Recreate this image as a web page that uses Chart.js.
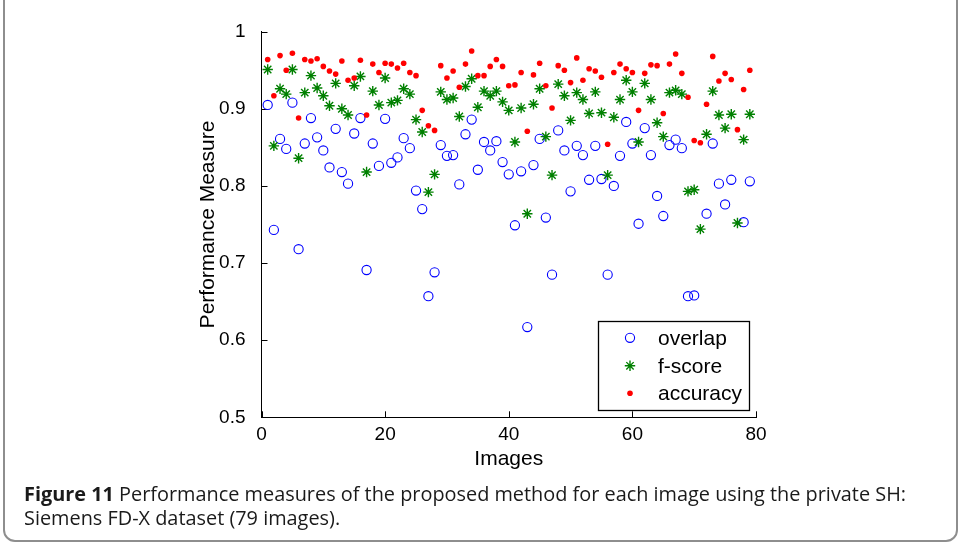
<!DOCTYPE html>
<html>
<head>
<meta charset="utf-8">
<script src="https://cdn.jsdelivr.net/npm/chart.js@4.4.0/dist/chart.umd.min.js"></script>
<style>
	body { margin: 0; background: #fff; }
	#wrap { position: relative; width: 961px; height: 545px; overflow: hidden; }
	#frame { position: absolute; left: 3px; top: -20px; width: 951px; height: 558px; border: 2px solid #8e8e8e; border-radius: 12px; }
	#chart { position: absolute; left: 0; top: 0; }
	.cap { position: absolute; left: 24px; font-family: "Open Sans", sans-serif; color: #1a1a1a; white-space: nowrap; font-size: 17px; line-height: 24px; }
</style>
</head>
<body>
<div id="wrap">
	<div id="frame"></div>
	<canvas id="chart" width="961" height="545"></canvas>
	<div class="cap" id="cap1" style="top:482px"><b>Figure 11</b> Performance measures of the proposed method for each image using the private SH:</div>
	<div class="cap" id="cap2" style="top:506px">Siemens FD-X dataset (79 images).</div>
</div>
<script>
	// values, one per image (1..79)
	var overlap = [
		0.905, 0.743, 0.861, 0.848, 0.908, 0.718, 0.855, 0.888, 0.863, 0.846,
		0.824, 0.874, 0.818, 0.803, 0.868, 0.888, 0.691, 0.855, 0.826, 0.887,
		0.830, 0.837, 0.862, 0.849, 0.794, 0.770, 0.657, 0.688, 0.853, 0.839,
		0.840, 0.802, 0.867, 0.886, 0.821, 0.857, 0.846, 0.858, 0.831, 0.815,
		0.749, 0.819, 0.617, 0.827, 0.861, 0.759, 0.685, 0.872, 0.846, 0.793,
		0.852, 0.840, 0.808, 0.852, 0.809, 0.685, 0.800, 0.839, 0.883, 0.855,
		0.751, 0.875, 0.840, 0.787, 0.761, 0.853, 0.860, 0.849, 0.657, 0.658,
		0.592, 0.764, 0.855, 0.803, 0.776, 0.808, 0.603, 0.753, 0.806
	];
	var fScore = [
		0.951, 0.852, 0.926, 0.919, 0.951, 0.836, 0.921, 0.943, 0.927, 0.917,
		0.904, 0.933, 0.900, 0.892, 0.930, 0.942, 0.818, 0.923, 0.905, 0.940,
		0.908, 0.911, 0.926, 0.919, 0.886, 0.870, 0.792, 0.815, 0.922, 0.912,
		0.914, 0.890, 0.929, 0.939, 0.902, 0.923, 0.917, 0.923, 0.909, 0.898,
		0.857, 0.901, 0.764, 0.906, 0.926, 0.864, 0.814, 0.932, 0.917, 0.885,
		0.921, 0.912, 0.894, 0.922, 0.895, 0.814, 0.889, 0.912, 0.937, 0.922,
		0.857, 0.933, 0.912, 0.882, 0.864, 0.921, 0.924, 0.919, 0.793, 0.795,
		0.744, 0.867, 0.923, 0.892, 0.875, 0.893, 0.752, 0.860, 0.893
	];
	var accuracy = [
		0.964, 0.917, 0.969, 0.950, 0.972, 0.888, 0.964, 0.962, 0.965, 0.955,
		0.949, 0.945, 0.962, 0.937, 0.940, 0.963, 0.892, 0.958, 0.947, 0.959,
		0.958, 0.953, 0.959, 0.947, 0.943, 0.898, 0.878, 0.872, 0.956, 0.940,
		0.949, 0.928, 0.958, 0.975, 0.943, 0.943, 0.955, 0.964, 0.955, 0.930,
		0.931, 0.947, 0.871, 0.944, 0.959, 0.930, 0.901, 0.956, 0.950, 0.934,
		0.966, 0.937, 0.952, 0.949, 0.941, 0.854, 0.947, 0.958, 0.952, 0.947,
		0.898, 0.946, 0.957, 0.956, 0.894, 0.958, 0.971, 0.946, 0.915, 0.859,
		0.856, 0.906, 0.968, 0.936, 0.946, 0.938, 0.873, 0.925, 0.950
	];
	var xTicks = [0, 20, 40, 60, 80];
	var yTicks = [0.5, 0.6, 0.7, 0.8, 0.9, 1];

	var FONT = '"Liberation Sans", Arial, Helvetica, sans-serif';

	// x = image number (1-based index into the series)
	var toPoints = function(arr) {
		return arr.map(function(v, i) {
			return { x: i + 1, y: v };
		});
	};

	// tick marks drawn inwards, like matlab
	var innerTicks = {
		id: 'innerTicks',
		beforeDatasetsDraw: function(chart) {
			var ctx = chart.ctx, a = chart.chartArea;
			var xs = chart.scales.x, ys = chart.scales.y;
			ctx.save();
			ctx.strokeStyle = '#000';
			ctx.lineWidth = 1;
			ctx.beginPath();
			xTicks.forEach(function(t) {
				var px = Math.round(xs.getPixelForValue(t)) + 0.5;
				ctx.moveTo(px, a.bottom);
				ctx.lineTo(px, a.bottom - 6);
			});
			yTicks.forEach(function(t) {
				var py = Math.round(ys.getPixelForValue(t)) + 0.5;
				ctx.moveTo(a.left, py);
				ctx.lineTo(a.left + 6, py);
			});
			ctx.stroke();
			ctx.restore();
		}
	};

	// boxed legend inside the axes, lower right
	var boxLegend = {
		id: 'boxLegend',
		afterDatasetsDraw: function(chart) {
			var ctx = chart.ctx, a = chart.chartArea;
			var right = a.right - 7, bottom = a.bottom - 7;
			var w = 151, h = 89;
			var left = right - w, top = bottom - h;
			ctx.save();
			ctx.fillStyle = '#fff';
			ctx.fillRect(left, top, w, h);
			ctx.strokeStyle = '#000';
			ctx.lineWidth = 1.3;
			ctx.strokeRect(Math.round(left) + 0.5, Math.round(top) + 0.5, w, h);
			ctx.font = '21px ' + FONT;
			ctx.textBaseline = 'middle';
			var rows = [16.5, 44.5, 72];
			chart.data.datasets.forEach(function(ds, i) {
				var y = top + rows[i];
				ctx.fillStyle = ds.backgroundColor;
				ctx.strokeStyle = ds.borderColor;
				ctx.lineWidth = ds.borderWidth;
				Chart.helpers.drawPoint(ctx, {
					pointStyle: ds.pointStyle,
					radius: ds.pointRadius,
					rotation: 0,
					borderWidth: ds.borderWidth
				}, left + 32, y);
				ctx.fillStyle = '#000';
				ctx.fillText(ds.label, left + 60, y + 1);
			});
			ctx.restore();
		}
	};

	new Chart(document.getElementById('chart'), {
		type: 'scatter',
		data: {
			datasets: [
				{
					label: 'overlap',
					data: toPoints(overlap),
					pointStyle: 'circle',
					pointRadius: 4.6,
					backgroundColor: 'rgba(0,0,0,0)',
					borderColor: 'rgb(0, 0, 255)',
					borderWidth: 1.1,
					order: 3
				},
				{
					label: 'f-score',
					data: toPoints(fScore),
					pointStyle: 'star',
					pointRadius: 5.2,
					backgroundColor: 'rgb(0, 128, 0)',
					borderColor: 'rgb(0, 128, 0)',
					borderWidth: 1.4,
					order: 2
				},
				{
					label: 'accuracy',
					data: toPoints(accuracy),
					pointStyle: 'circle',
					pointRadius: 2.8,
					backgroundColor: 'rgb(255, 0, 0)',
					borderColor: 'rgb(255, 0, 0)',
					borderWidth: 0,
					order: 1
				}
			]
		},
		options: {
			responsive: false,
			animation: false,
			devicePixelRatio: 1,
			layout: {
				padding: { left: 191.5, right: 205, top: 31.7, bottom: 67.7 }
			},
			plugins: {
				legend: { display: false },
				tooltip: { enabled: false }
			},
			scales: {
				x: {
					type: 'linear',
					min: 0,
					max: 80,
					afterFit: function(s) { s.height = 60; },
					afterBuildTicks: function(s) {
						s.ticks = xTicks.map(function(v) { return { value: v }; });
					},
					grid: { display: false },
					border: { display: true, color: '#000', width: 1 },
					ticks: { color: '#000', padding: -2, font: { family: FONT, size: 19 } },
					title: {
						display: true,
						text: 'Images',
						color: '#000',
						padding: { top: 0, bottom: 5 },
						font: { family: FONT, size: 21 }
					}
				},
				y: {
					min: 0.5,
					max: 1,
					afterFit: function(s) { s.width = 70; },
					afterBuildTicks: function(s) {
						s.ticks = yTicks.map(function(v) { return { value: v }; });
					},
					grid: { display: false },
					border: { display: true, color: '#000', width: 1 },
					ticks: {
						color: '#000',
						padding: 8,
						font: { family: FONT, size: 19 },
						callback: function(v) { return String(Number(v.toFixed(1))); }
					},
					title: {
						display: true,
						text: 'Performance Measure',
						color: '#000',
						padding: { top: 4, bottom: 4 },
						font: { family: FONT, size: 21 }
					}
				}
			}
		},
		plugins: [innerTicks, boxLegend]
	});

	// fit caption width to the figure
	var cap1 = document.getElementById('cap1');
	var cap2 = document.getElementById('cap2');
	var w = cap1.getBoundingClientRect().width;
	if (w > 0) {
		var fs = 17 * 883 / w;
		cap1.style.fontSize = fs + 'px';
		cap2.style.fontSize = fs + 'px';
	}
</script>
</body>
</html>
